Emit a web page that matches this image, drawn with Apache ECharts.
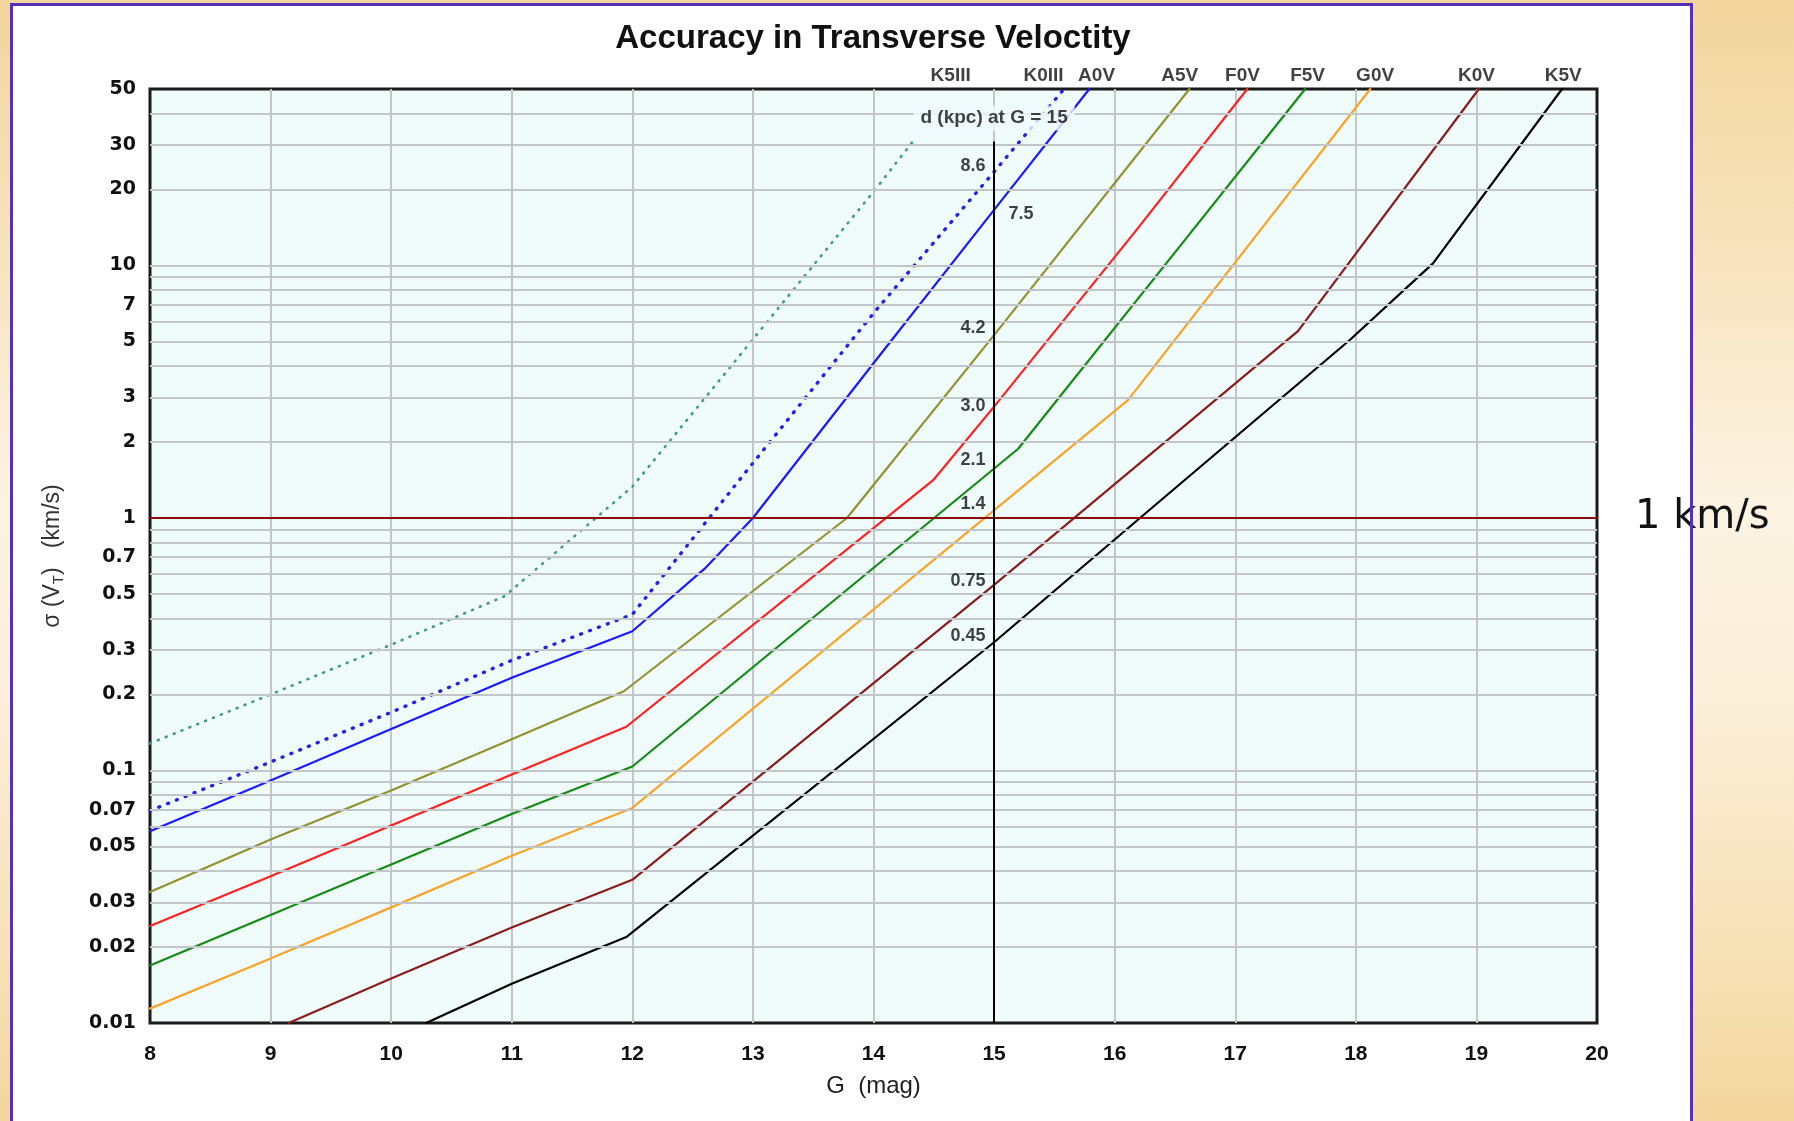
<!DOCTYPE html>
<html><head><meta charset="utf-8">
<script src="https://cdn.jsdelivr.net/npm/echarts@6/dist/echarts.min.js"></script>
<style>
html,body{margin:0;padding:0;width:1794px;height:1121px;overflow:hidden;
background:linear-gradient(to bottom,#F2D59C 0%,#F7E3BC 22%,#FCF3E3 45%,#FBEFD9 62%,#F7E1B6 85%,#F3D69D 100%);}
#panel{position:absolute;left:10px;top:3px;width:1683px;height:1200px;background:#ffffff;}
#border{position:absolute;left:10px;top:3px;width:1683px;height:1200px;border:3px solid #5530B8;box-sizing:border-box;pointer-events:none;z-index:3;}
#chart{position:absolute;left:0;top:0;width:1794px;height:1121px;z-index:2;}
</style></head>
<body>
<div id="panel"></div>
<div id="chart"></div>
<div id="border"></div>
<script>
// ---------- DATA ----------
const titleText = 'Accuracy in Transverse Veloctity';
const xMin = 8, xMax = 20, xStep = 1;
const yMin = 0.01, yMax = 50;
const yGridValues = [0.01,0.02,0.03,0.04,0.05,0.06,0.07,0.08,0.09,
  0.1,0.2,0.3,0.4,0.5,0.6,0.7,0.8,0.9,1,2,3,4,5,6,7,8,9,10,20,30,40,50];
const yTickValues = [0.01,0.02,0.03,0.05,0.07,0.1,0.2,0.3,0.5,0.7,1,2,3,5,7,10,20,30,50];
const yTickLabels = ['0.01','0.02','0.03','0.05','0.07','0.1','0.2','0.3','0.5','0.7','1','2','3','5','7','10','20','30','50'];

// curves: G (mag) and sigma(V_T) (km/s)
const k5iiiG = [8, 9, 10, 10.94, 12, 13, 14, 14.35];
const k5iiiV = [0.128, 0.2, 0.315, 0.49, 1.33, 5.1, 19.6, 32];
const k0iiiG = [8, 9, 10, 11, 12, 13, 14, 15, 15.58];
const k0iiiV = [0.0693, 0.108, 0.170, 0.273, 0.415, 1.65, 6.47, 23.5, 50];
const a0vG = [8, 9, 10, 11, 12, 12.6, 13, 14, 15, 15.79];
const a0vV = [0.0575, 0.0912, 0.146, 0.233, 0.356, 0.63, 1.0, 4.1, 16.6, 50];
const a5vG = [8, 9, 10, 11, 11.93, 13.78, 15, 16.62];
const a5vV = [0.033, 0.0533, 0.0833, 0.133, 0.206, 1.0, 5.3, 50];
const f0vG = [8, 9, 10, 11, 11.95, 14.5, 15, 16.18, 17.1];
const f0vV = [0.0242, 0.0381, 0.0605, 0.0964, 0.149, 1.42, 2.76, 13.8, 50];
const f5vG = [8, 9, 10, 11, 12, 15.2, 16.54, 17.58];
const f5vV = [0.0169, 0.0268, 0.0424, 0.0673, 0.1037, 1.88, 11.9, 50];
const g0vG = [8, 9, 10, 11, 12, 16.11, 18.12];
const g0vV = [0.0114, 0.018, 0.0287, 0.046, 0.0711, 2.93, 50];
const k0vG = [9.15, 10, 11, 12, 15, 17.52, 19.02];
const k0vV = [0.01, 0.015, 0.0239, 0.0369, 0.543, 5.5, 50];
const k5vG = [10.29, 11, 11.95, 15, 16.21, 17.95, 18.64, 19.71];
const k5vV = [0.01, 0.0143, 0.0219, 0.322, 1.0, 5.07, 10.2, 50];

// spectral-type labels at the top of the plot
const specNames = ['K5III','K0III','A0V','A5V','F0V','F5V','G0V','K0V','K5V'];
const specLabelG = [14.64, 15.41, 15.85, 16.54, 17.06, 17.60, 18.16, 19.00, 19.72];

// distance labels at G = 15
const refG = 15;
const refLineTop = 31;
const distHeader = 'd (kpc) at G = 15';
const distHeaderY = 38.4;
const distText = ['8.6','7.5','4.2','3.0','2.1','1.4','0.75','0.45'];
const distY = [24.8, 16.0, 5.63, 2.77, 1.70, 1.14, 0.562, 0.340];
const distSide = ['left','right','left','left','left','left','left','left'];

const refSpeed = 1;
const refSpeedLabel = '1 km/s';

// ---------- CHART ----------
const plotBg = '#F0FBFC';
const gridColor = '#C3C6C8';
const curves = [
  {name:'K5III', g:k5iiiG, v:k5iiiV, color:'#3F9C80', width:2.6, dash:[1,7.5]},
  {name:'K0III', g:k0iiiG, v:k0iiiV, color:'#2222E8', width:3.4, dash:[1,8.5]},
  {name:'A0V',   g:a0vG,   v:a0vV,   color:'#1A1AFF', width:2.2},
  {name:'A5V',   g:a5vG,   v:a5vV,   color:'#929230', width:2.2},
  {name:'F0V',   g:f0vG,   v:f0vV,   color:'#FF2020', width:2.2},
  {name:'F5V',   g:f5vG,   v:f5vV,   color:'#168A16', width:2.2},
  {name:'G0V',   g:g0vG,   v:g0vV,   color:'#F8A428', width:2.2},
  {name:'K0V',   g:k0vG,   v:k0vV,   color:'#8A1C1C', width:2.2},
  {name:'K5V',   g:k5vG,   v:k5vV,   color:'#000000', width:2.2}
];

const series = [];
// horizontal gridlines + y tick labels
series.push({
  type:'line', name:'ygrid', data:[], z:1, silent:true,
  markLine:{
    silent:true, symbol:['none','none'], precision:6, animation:false,
    lineStyle:{color:gridColor, width:2, type:'solid'},
    label:{show:false},
    emphasis:{disabled:true},
    data: yGridValues.map(v => {
      const idx = yTickValues.indexOf(v);
      const item = {yAxis:v};
      if (v === yMin || v === yMax) item.lineStyle = {color:'rgba(0,0,0,0)'};
      if (idx >= 0) {
        item.label = {show:true, position:'start', distance:14, formatter:yTickLabels[idx],
          color:'#111', fontWeight:'bold', fontSize:19, fontFamily:'DejaVu Sans'};
      }
      return item;
    })
  }
});
// 1 km/s line
series.push({
  type:'line', name:'ref', data:[], z:2, silent:true,
  markLine:{
    silent:true, symbol:['none','none'], precision:6, animation:false,
    lineStyle:{color:'#8B0A0A', width:2.2, type:'solid'},
    emphasis:{disabled:true},
    label:{show:true, position:'end', distance:38, formatter:refSpeedLabel,
      color:'#111', fontSize:40, fontFamily:'DejaVu Sans'},
    data:[{yAxis:refSpeed}]
  }
});
// curves
curves.forEach(c => {
  series.push({
    type:'line', name:c.name, z:3, silent:true, clip:true,
    showSymbol:false, symbol:'none', smooth:false,
    data:c.g.map((g,i)=>[g, c.v[i]]),
    lineStyle:{color:c.color, width:c.width, type:c.dash || 'solid', cap:'round', join:'round'}
  });
});
// vertical line at G = 15
series.push({
  type:'line', name:'g15', data:[], z:4, silent:true,
  markLine:{
    silent:true, symbol:['none','none'], precision:6, animation:false,
    lineStyle:{color:'#000', width:2, type:'solid'},
    emphasis:{disabled:true},
    label:{show:false},
    data:[[{coord:[refG, yMin]}, {coord:[refG, refLineTop]}]]
  }
});
// header label for distances
series.push({
  type:'scatter', name:'hdr', z:6, silent:true, clip:false, symbolSize:1,
  itemStyle:{color:'rgba(0,0,0,0)'},
  data:[[refG, distHeaderY]],
  label:{show:true, position:'inside', formatter:distHeader, color:'#111',
    fontWeight:'bold', fontSize:19, fontFamily:'Liberation Sans',
    backgroundColor:plotBg, padding:[3,7]}
});
// distance labels
series.push({
  type:'scatter', name:'dist', z:6, silent:true, clip:false, symbolSize:1,
  itemStyle:{color:'rgba(0,0,0,0)'},
  data: distText.map((t,i)=>({value:[refG, distY[i]], name:t,
    label:{position:distSide[i], distance: distSide[i]==='left' ? 8 : 14}})),
  label:{show:true, formatter:p=>p.name, color:'#111', fontWeight:'bold',
    fontSize:18, fontFamily:'Liberation Sans'}
});
// spectral type labels
series.push({
  type:'scatter', name:'spec', z:6, silent:true, clip:false, symbolSize:1,
  itemStyle:{color:'rgba(0,0,0,0)'},
  data: specLabelG.map((g,i)=>({value:[g, yMax], name:specNames[i]})),
  label:{show:true, position:'top', distance:3, formatter:p=>p.name, color:'#111',
    fontWeight:'bold', fontSize:19, fontFamily:'Liberation Sans'}
});

const option = {
  animation:false,
  backgroundColor:'transparent',
  grid:{left:150, right:197, top:89, bottom:98, show:true, backgroundColor:plotBg,
    borderColor:'#1a1a1a', borderWidth:3, containLabel:false},
  graphic:[{type:'text', x:873, y:39, z:10,
    style:{text:titleText, align:'center', verticalAlign:'middle',
      font:'bold 33px "Liberation Sans", Arial, sans-serif', fill:'#111'}}],
  xAxis:{
    type:'value', min:xMin, max:xMax, interval:xStep,
    axisLine:{show:false}, axisTick:{show:false},
    axisLabel:{margin:21, color:'#111', fontWeight:'bold', fontSize:21, fontFamily:'Liberation Sans'},
    splitLine:{show:true, showMinLine:false, showMaxLine:false, lineStyle:{color:gridColor, width:2}},
    name:'G  (mag)', nameLocation:'middle', nameGap:51,
    nameTextStyle:{color:'#222', fontSize:24, fontFamily:'Liberation Sans'}
  },
  yAxis:{
    type:'log', logBase:10, min:yMin, max:yMax,
    axisLine:{show:false}, axisTick:{show:false}, axisLabel:{show:false},
    splitLine:{show:false}, minorSplitLine:{show:false},
    name:'{a|σ (V}{s|T}{a|)   (km/s)}', nameLocation:'middle', nameGap:84, nameRotate:90,
    nameTextStyle:{rich:{
      a:{fontSize:23, color:'#333', fontFamily:'Liberation Sans'},
      s:{fontSize:15, color:'#333', fontFamily:'Liberation Sans', padding:[11,0,0,0]}
    }}
  },
  series:series
};
const chart = echarts.init(document.getElementById('chart'), null, {renderer:'canvas', width:1794, height:1121});
chart.setOption(option);
</script>
</body></html>
